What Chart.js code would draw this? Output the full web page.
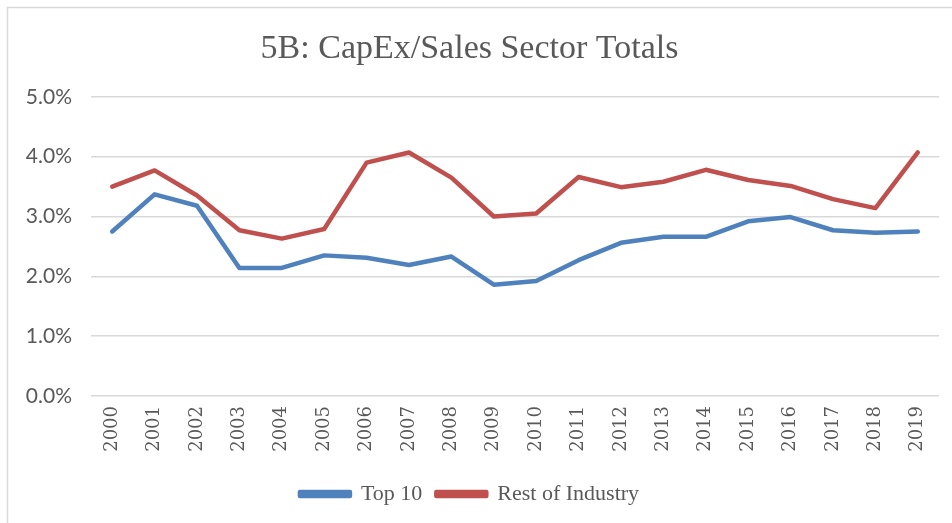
<!DOCTYPE html>
<html><head><meta charset="utf-8">
<script src="https://cdn.jsdelivr.net/npm/chart.js@4"></script>
<style>html,body{margin:0;padding:0;background:#fff;}#wrap{width:952px;height:523px;position:relative;}</style>
</head><body><div id="wrap"><canvas id="c" width="952" height="523"></canvas></div>
<script>
const years = ["2000","2001","2002","2003","2004","2005","2006","2007","2008","2009","2010","2011","2012","2013","2014","2015","2016","2017","2018","2019"];
const top10 = [2.75,3.37,3.18,2.14,2.14,2.35,2.31,2.19,2.33,1.86,1.92,2.27,2.56,2.66,2.66,2.92,2.99,2.77,2.73,2.75];
const restOfIndustry = [3.50,3.77,3.35,2.77,2.63,2.79,3.90,4.07,3.65,3.00,3.05,3.66,3.49,3.58,3.78,3.61,3.51,3.29,3.14,4.07];
const yTicks = [0,1,2,3,4,5];

const borderPlugin = {id:'bg', beforeDraw(chart){const ctx=chart.ctx;ctx.save();ctx.fillStyle='#fff';ctx.fillRect(0,0,chart.width,chart.height);ctx.strokeStyle='#d9d9d9';ctx.lineWidth=1.5;ctx.strokeRect(7.5,7.5,1200,1200);ctx.restore();}};

new Chart(document.getElementById('c'), {
  type:'line',
  data:{labels:years, datasets:[
    {label:'Top 10', data:top10, borderColor:'#4F81BD', backgroundColor:'#4F81BD', borderWidth:4.5, pointRadius:0, tension:0, borderCapStyle:'round', borderJoinStyle:'round'},
    {label:'Rest of Industry', data:restOfIndustry, borderColor:'#C0504D', backgroundColor:'#C0504D', borderWidth:4.5, pointRadius:0, tension:0, borderCapStyle:'round', borderJoinStyle:'round'}
  ]},
  options:{
    responsive:false, animation:false, devicePixelRatio:1,
    layout:{padding:{left:0,right:13,top:10,bottom:8}},
    plugins:{
      title:{display:true, text:'5B: CapEx/Sales Sector Totals', color:'#595959', font:{family:'Liberation Serif', size:34, weight:'normal'}, padding:{top:19,bottom:27}},
      legend:{position:'bottom', labels:{color:'#595959', font:{family:'Liberation Serif', size:22}, boxWidth:50, boxHeight:4, padding:14}},
      tooltip:{enabled:false}
    },
    scales:{
      x:{grid:{display:false, drawTicks:false}, border:{display:false}, offset:true, afterFit(s){s.height=73;},
         ticks:{color:'#595959', font:{family:'DejaVu Serif', size:18}, maxRotation:90, minRotation:90, padding:10, autoSkip:false}},
      y:{min:0, max:5, afterFit(s){s.width=91;}, afterBuildTicks(s){s.ticks=yTicks.map(v=>({value:v}));},
         grid:{color:'#d9d9d9', lineWidth:1.5, drawTicks:false}, border:{display:false},
         ticks:{color:'#595959', font:{family:'Lato', size:21}, padding:19, callback:v=>v.toFixed(1)+'%'}}
    }
  },
  plugins:[borderPlugin]
});
</script></body></html>
